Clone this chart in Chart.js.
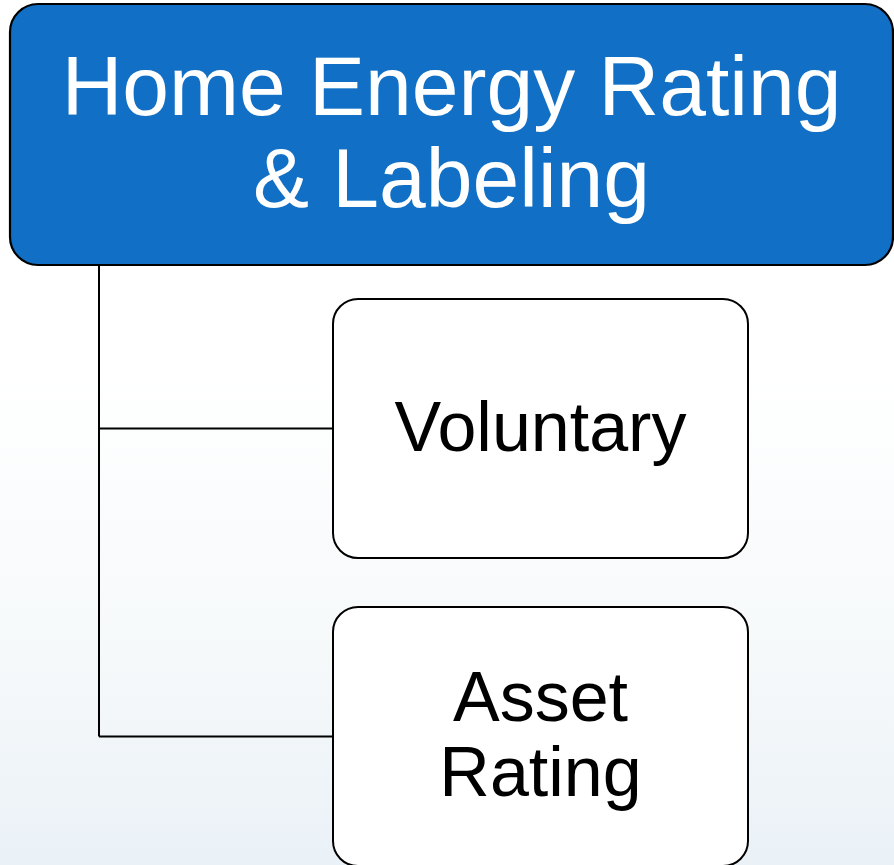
<!DOCTYPE html>
<html>
<head>
<meta charset="utf-8">
<script src="https://cdn.jsdelivr.net/npm/chart.js@4/dist/chart.umd.min.js"></script>
<style>
html,body{margin:0;padding:0;background:#fff;overflow:hidden}
canvas{display:block}
</style>
</head>
<body>
<canvas id="c" width="894" height="865"></canvas>
<script>
// ---- data ----
const nodeLines = [
  ['Home Energy Rating', '& Labeling'],
  ['Voluntary'],
  ['Asset', 'Rating']
];
const nodeParents = [-1, 0, 0];

// ---- layout (pixel units on hidden linear scales) ----
const ROOT = {x0: 10, y0: 4, x1: 893, y1: 265, r: 28, font: 84, lh: 92, base0: 115};
const CHILD = {x0: 333, x1: 748, top0: 299, h: 259, step: 308, r: 25, font: 70, lh: 75, dy: -3, dx: 0};
const TRUNK_X = 99;

function rrect(ctx, x0, y0, x1, y1, r) {
  ctx.beginPath();
  ctx.moveTo(x0 + r, y0);
  ctx.lineTo(x1 - r, y0);
  ctx.arcTo(x1, y0, x1, y0 + r, r);
  ctx.lineTo(x1, y1 - r);
  ctx.arcTo(x1, y1, x1 - r, y1, r);
  ctx.lineTo(x0 + r, y1);
  ctx.arcTo(x0, y1, x0, y1 - r, r);
  ctx.lineTo(x0, y0 + r);
  ctx.arcTo(x0, y0, x0 + r, y0, r);
  ctx.closePath();
}

const diagramPlugin = {
  id: 'diagram',
  beforeDraw(chart) {
    const ctx = chart.ctx;
    const sx = chart.scales.x, sy = chart.scales.y;
    const X = v => sx.getPixelForValue(v), Y = v => sy.getPixelForValue(v);
    ctx.save();
    // background gradient
    const g = ctx.createLinearGradient(0, Y(0), 0, Y(865));
    g.addColorStop(0, '#ffffff');
    g.addColorStop(0.42, '#ffffff');
    g.addColorStop(0.75, '#f6f9fa');
    g.addColorStop(1, '#eaf1f7');
    ctx.fillStyle = g;
    ctx.fillRect(0, 0, chart.width, chart.height);

    // connectors
    const children = [];
    nodeParents.forEach((p, i) => { if (p === 0) children.push(i); });
    ctx.strokeStyle = '#000';
    ctx.lineWidth = 2;
    const lastCy = CHILD.top0 + (children.length - 1) * CHILD.step + CHILD.h / 2;
    ctx.beginPath();
    ctx.moveTo(X(TRUNK_X), Y(ROOT.y1));
    ctx.lineTo(X(TRUNK_X), Y(lastCy));
    children.forEach((ci, k) => {
      const cy = CHILD.top0 + k * CHILD.step + CHILD.h / 2;
      ctx.moveTo(X(TRUNK_X), Y(cy));
      ctx.lineTo(X(CHILD.x0), Y(cy));
    });
    ctx.stroke();

    // root box
    rrect(ctx, X(ROOT.x0), Y(ROOT.y0), X(ROOT.x1), Y(ROOT.y1), ROOT.r);
    ctx.fillStyle = '#1170c5';
    ctx.fill();
    ctx.lineWidth = 2.2;
    ctx.strokeStyle = '#000';
    ctx.stroke();
    ctx.fillStyle = '#ffffff';
    ctx.font = ROOT.font + 'px "Liberation Sans", Arial, sans-serif';
    ctx.textAlign = 'center';
    ctx.textBaseline = 'alphabetic';
    const rcx = (ROOT.x0 + ROOT.x1) / 2;
    nodeLines[0].forEach((t, j) => ctx.fillText(t, X(rcx), Y(ROOT.base0 + j * ROOT.lh)));

    // child boxes
    children.forEach((ci, k) => {
      const y0 = CHILD.top0 + k * CHILD.step, y1 = y0 + CHILD.h;
      rrect(ctx, X(CHILD.x0), Y(y0), X(CHILD.x1), Y(y1), CHILD.r);
      ctx.fillStyle = '#ffffff';
      ctx.fill();
      ctx.lineWidth = 2;
      ctx.strokeStyle = '#000';
      ctx.stroke();
      ctx.fillStyle = '#000';
      ctx.font = CHILD.font + 'px "Liberation Sans", Arial, sans-serif';
      const lines = nodeLines[ci];
      const cx = (CHILD.x0 + CHILD.x1) / 2 + CHILD.dx;
      const cy = (y0 + y1) / 2 + CHILD.dy;
      const capH = CHILD.font * 0.716;
      const firstBase = cy - (lines.length - 1) * CHILD.lh / 2 + capH / 2;
      lines.forEach((t, j) => ctx.fillText(t, X(cx), Y(firstBase + j * CHILD.lh)));
    });
    ctx.restore();
  }
};

new Chart(document.getElementById('c'), {
  type: 'scatter',
  data: {datasets: [{data: []}]},
  options: {
    responsive: false,
    animation: false,
    layout: {padding: 0},
    plugins: {legend: {display: false}, tooltip: {enabled: false}},
    scales: {
      x: {type: 'linear', min: 0, max: 894, display: false},
      y: {type: 'linear', min: 0, max: 865, reverse: true, display: false}
    }
  },
  plugins: [diagramPlugin]
});
</script>
</body>
</html>
